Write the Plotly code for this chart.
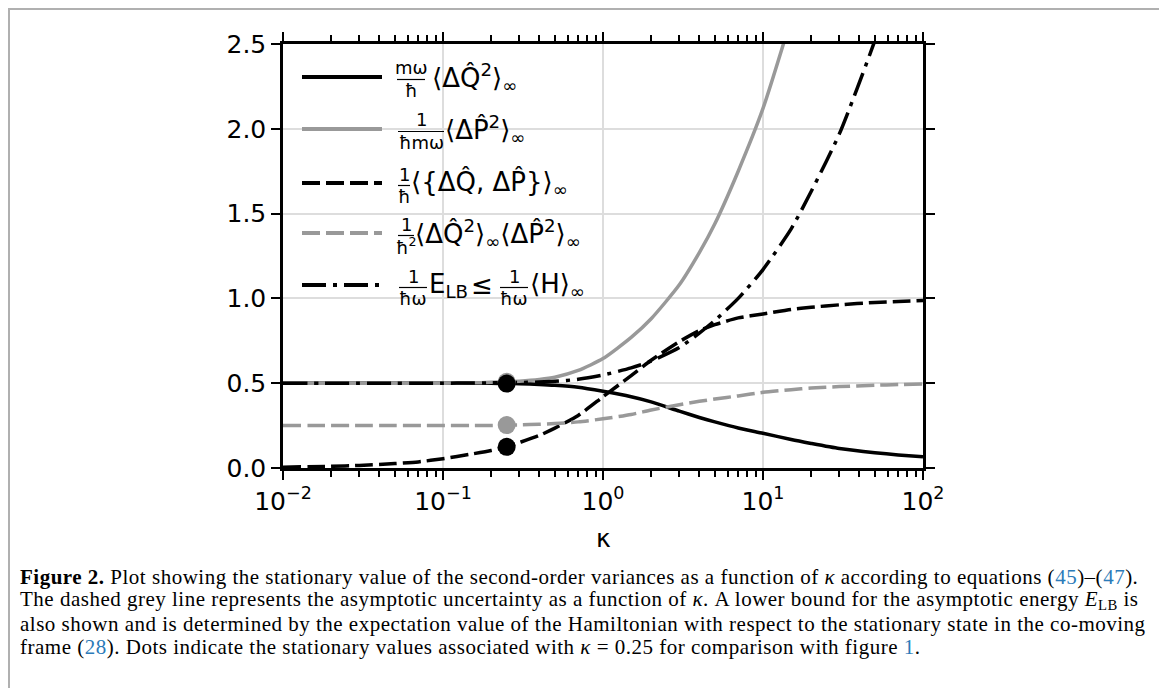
import plotly.graph_objects as go

# ---------------- data ----------------
kappa = [0.01, 0.02, 0.03, 0.05, 0.07, 0.1, 0.15, 0.2, 0.25, 0.3, 0.4, 0.5, 0.7,
         1.0, 1.5, 2.0, 3.0, 4.0, 5.0, 7.0, 10.0, 15.0, 20.0, 30.0, 50.0, 70.0, 100.0]

var_q = [0.5, 0.5, 0.5, 0.5, 0.5, 0.5, 0.5, 0.499, 0.498, 0.497, 0.493, 0.488, 0.476,
         0.452, 0.42, 0.39, 0.335, 0.298, 0.272, 0.236, 0.205, 0.168, 0.145, 0.115, 0.09, 0.077, 0.066]

var_p = [0.5, 0.5, 0.5, 0.5, 0.5, 0.5, 0.502, 0.505, 0.508, 0.512, 0.522, 0.535, 0.575,
         0.645, 0.77, 0.88, 1.08, 1.27, 1.44, 1.75, 2.12, 2.65, 3.05, None, None, None, None]

anticomm = [0.005, 0.01, 0.015, 0.026, 0.036, 0.055, 0.082, 0.103, 0.125, 0.15, 0.192, 0.235, 0.31,
            0.42, 0.545, 0.635, 0.745, 0.81, 0.845, 0.885, 0.908, 0.935, 0.948, 0.962, 0.976, 0.982, 0.988]

uncert = [0.25, 0.25, 0.25, 0.25, 0.25, 0.25, 0.25, 0.251, 0.253, 0.254, 0.258, 0.262, 0.272,
          0.29, 0.316, 0.342, 0.373, 0.393, 0.407, 0.425, 0.446, 0.462, 0.472, 0.48, 0.488, 0.492, 0.496]

energy = [0.5, 0.5, 0.5, 0.5, 0.5, 0.5, 0.501, 0.502, 0.503, 0.504, 0.507, 0.511, 0.523,
          0.548, 0.59, 0.63, 0.71, 0.795, 0.87, 1.0, 1.17, 1.41, 1.63, 1.97, 2.52, 2.95, None]

dot_kappa = 0.25
dot_grey = [0.508, 0.253]      # <ΔP²>, product
dot_black = [0.498, 0.125]     # <ΔQ²>, anticommutator

x_tickvals = [0.01, 0.1, 1, 10, 100]
x_ticktext = ["10<sup>−2</sup>", "10<sup>−1</sup>", "10<sup>0</sup>", "10<sup>1</sup>", "10<sup>2</sup>"]
y_tickvals = [0.0, 0.5, 1.0, 1.5, 2.0, 2.5]
y_ticktext = ["0.0", "0.5", "1.0", "1.5", "2.0", "2.5"]

BLACK = "#000000"
GREY = "#999999"
LW = 3.5
DASH = "18px,6px"
DASHDOT = "24px,7px,4px,7px"

# ---------------- geometry helpers (reference pixels -> paper) ----------------
OFF = 8                       # page body margin of the html page
W_FIG, H_FIG = 1159, 680
L, R, T, B = 283 - OFF, 923 - OFF, 44 - OFF, 468 - OFF
def px(x):
    return (x - OFF - L) / (R - L)
def py(y):
    return (B - (y - OFF)) / (B - T)

SM = 0.6
fig = go.Figure()
fig.add_trace(go.Scatter(x=kappa, y=var_q, mode="lines", line=dict(color=BLACK, width=LW, shape="spline", smoothing=SM), showlegend=False))
fig.add_trace(go.Scatter(x=kappa, y=var_p, mode="lines", line=dict(color=GREY, width=LW, shape="spline", smoothing=SM), showlegend=False))
fig.add_trace(go.Scatter(x=kappa, y=anticomm, mode="lines", line=dict(color=BLACK, width=LW, dash=DASH, shape="spline", smoothing=SM), showlegend=False))
fig.add_trace(go.Scatter(x=kappa, y=uncert, mode="lines", line=dict(color=GREY, width=LW, dash=DASH, shape="spline", smoothing=SM), showlegend=False))
fig.add_trace(go.Scatter(x=kappa, y=energy, mode="lines", line=dict(color=BLACK, width=LW, dash=DASHDOT, shape="spline", smoothing=SM), showlegend=False))
fig.add_trace(go.Scatter(x=[dot_kappa] * len(dot_grey), y=dot_grey, mode="markers",
                         marker=dict(color=GREY, size=18, line=dict(width=0)), showlegend=False))
fig.add_trace(go.Scatter(x=[dot_kappa] * len(dot_black), y=dot_black, mode="markers",
                         marker=dict(color=BLACK, size=18, line=dict(width=0)), showlegend=False))

# ---------------- manual legend ----------------
rows = [77, 129, 183, 233, 285]
styles = [(BLACK, None), (GREY, None), (BLACK, DASH), (GREY, DASH), (BLACK, DASHDOT)]
shapes = []
for ry, (col, dsh) in zip(rows, styles):
    ln = dict(color=col, width=LW + 0.3)
    if dsh:
        ln["dash"] = dsh
    shapes.append(dict(type="line", xref="paper", yref="paper", x0=px(302), x1=px(382),
                       y0=py(ry), y1=py(ry), line=ln, layer="above"))

annotations = []
FR_FONT = dict(family="DejaVu Sans", size=18, color="black")
MAIN_FONT = dict(family="DejaVu Sans", size=26, color="black")

def fraction(num, den, cx, ry, w):
    annotations.append(dict(text=num, x=px(cx), y=py(ry - 9), xref="paper", yref="paper",
                            xanchor="center", yanchor="middle", showarrow=False, font=FR_FONT))
    annotations.append(dict(text=den, x=px(cx), y=py(ry + 13), xref="paper", yref="paper",
                            xanchor="center", yanchor="middle", showarrow=False, font=FR_FONT))
    shapes.append(dict(type="line", xref="paper", yref="paper", x0=px(cx - w / 2), x1=px(cx + w / 2),
                       y0=py(ry + 2.5), y1=py(ry + 2.5), line=dict(color="black", width=1.2)))

def main_text(txt, x0, ry):
    annotations.append(dict(text=txt, x=px(x0), y=py(ry), xref="paper", yref="paper",
                            xanchor="left", yanchor="middle", showarrow=False, font=MAIN_FONT))

fraction("mω", "ħ", 411, rows[0], 28)
main_text("⟨ΔQ̂<sup>2</sup>⟩<sub>∞</sub>", 430, rows[0])
fraction("1", "ħmω", 421, rows[1], 46)
main_text("⟨ΔP̂<sup>2</sup>⟩<sub>∞</sub>", 443, rows[1])
fraction("1", "ħ", 404, rows[2], 12)
main_text("⟨{ΔQ̂, ΔP̂}⟩<sub>∞</sub>", 409, rows[2])
fraction("1", "ħ<sup>2</sup>", 406, rows[3], 16)
main_text("⟨ΔQ̂<sup>2</sup>⟩<sub>∞</sub>⟨ΔP̂<sup>2</sup>⟩<sub>∞</sub>", 413, rows[3])
fraction("1", "ħω", 413, rows[4], 28)
main_text("E<sub>LB</sub>", 427, rows[4])
main_text("≤", 469, rows[4])
fraction("1", "ħω", 514, rows[4], 28)
main_text("⟨H⟩<sub>∞</sub>", 528, rows[4])

# ---------------- caption ----------------
BLUE = "#2B7BB9"
def blue(s):
    return f"<span style='color:{BLUE}'>{s}</span>"
caption_lines = [
    "<b>Figure 2.</b> Plot showing the stationary value of the second-order variances as a function of <i>κ</i> according to equations ("
    + blue("45") + ")–(" + blue("47") + ").",
    "The dashed grey line represents the asymptotic uncertainty as a function of <i>κ</i>. A lower bound for the asymptotic energy <i>E</i><sub>LB</sub> is",
    "also shown and is determined by the expectation value of the Hamiltonian with respect to the stationary state in the co-moving",
    "frame (" + blue("28") + "). Dots indicate the stationary values associated with <i>κ</i> = 0.25 for comparison with figure " + blue("1") + ".",
]
cap_y = [577, 600, 624, 647]
for txt, cy in zip(caption_lines, cap_y):
    annotations.append(dict(text="<span style='letter-spacing:0.5px'>" + txt + "</span>",
                            x=px(18), y=py(cy), xref="paper", yref="paper",
                            xanchor="left", yanchor="middle", showarrow=False,
                            font=dict(family="Liberation Serif", size=21, color="black")))

# x-axis title
annotations.append(dict(text="κ", x=px(603), y=py(538), xref="paper", yref="paper",
                        xanchor="center", yanchor="middle", showarrow=False,
                        font=dict(family="DejaVu Sans", size=25, color="black")))

# figure border
shapes.append(dict(type="rect", xref="paper", yref="paper", x0=px(9), x1=px(1163), y0=py(720), y1=py(9),
                   line=dict(color="#b0b0b0", width=2), layer="below"))

minor_x = [m * 10 ** e for e in range(-2, 2) for m in range(2, 10)]
TICKFONT = dict(family="DejaVu Sans", size=25, color="black")

fig.update_layout(
    width=W_FIG, height=H_FIG,
    margin=dict(l=L, r=W_FIG - R, t=T, b=H_FIG - B, pad=0),
    paper_bgcolor="white", plot_bgcolor="white",
    shapes=shapes, annotations=annotations,
    font=dict(family="DejaVu Sans", size=20, color="black"),
    xaxis=dict(type="log", range=[-2, 2], tickvals=x_tickvals, ticktext=x_ticktext,
               showgrid=True, gridcolor="#dddddd", gridwidth=1.5,
               showline=True, linecolor="black", linewidth=2.5, mirror="allticks",
               ticks="outside", ticklen=9, tickwidth=2, tickcolor="black",
               tickfont=TICKFONT,
               minor=dict(tickmode="array", tickvals=minor_x, ticks="outside", ticklen=6,
                          tickwidth=2, tickcolor="black", showgrid=False),
               zeroline=False),
    yaxis=dict(range=[0, 2.5], tickvals=y_tickvals, ticktext=y_ticktext,
               showgrid=True, gridcolor="#dddddd", gridwidth=1.5,
               showline=True, linecolor="black", linewidth=2.5, mirror="allticks",
               ticks="outside", ticklen=9, tickwidth=2, tickcolor="black",
               tickfont=TICKFONT, zeroline=False),
)

fig.write_html("out.html")
